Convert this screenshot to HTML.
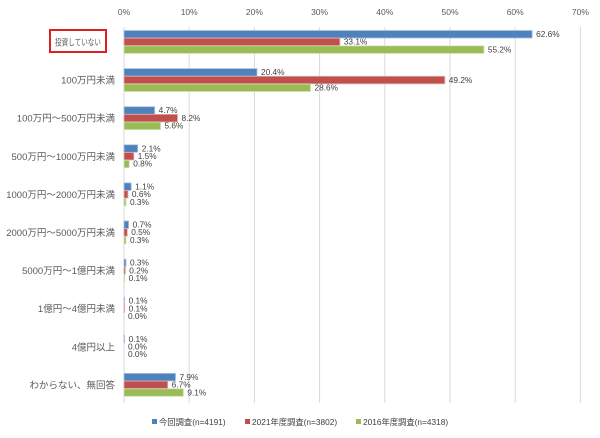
<!DOCTYPE html>
<html><head><meta charset="utf-8"><style>
html,body{margin:0;padding:0;background:#fff;}
svg{display:block;font-family:"Liberation Sans","Noto Sans CJK JP",sans-serif;}
</style></head><body>
<svg id="c" width="600" height="438" viewBox="0 0 600 438"></svg>
<script>
(function(){
var s=document.getElementById('c');
var x0=124,k=6.52,yTop=27,yBot=403;
var h='';
for(var i=0;i<=7;i++){var x=x0+i*10*k;
 h+='<line x1="'+x+'" y1="'+yTop+'" x2="'+x+'" y2="'+yBot+'" stroke="#d9d9d9" stroke-width="1"/>';
 h+='<text x="'+x+'" y="15" font-size="8.5" fill="#595959" text-anchor="middle">'+(i*10)+'%</text>';}
var cats=["投資していない","100万円未満","100万円～500万円未満","500万円～1000万円未満","1000万円～2000万円未満","2000万円～5000万円未満","5000万円～1億円未満","1億円～4億円未満","4億円以上","わからない、無回答"];
var d=[[62.6,33.1,55.2],[20.4,49.2,28.6],[4.7,8.2,5.6],[2.1,1.5,0.8],[1.1,0.6,0.3],[0.7,0.5,0.3],[0.3,0.2,0.1],[0.1,0.1,0.0],[0.1,0.0,0.0],[7.9,6.7,9.1]];
var col=["#4f81bd","#c0504d","#9bbb59"],bc=["#a8c0e0","#e0a8a6","#cde0ae"];
for(var g=0;g<10;g++){var cy=42+g*38.1;
 if(g==0){h+='<text x="55" y="'+(cy+3.5)+'" font-size="9" textLength="46" lengthAdjust="spacingAndGlyphs" fill="#595959">'+cats[g]+'</text>';}
 else h+='<text x="115" y="'+(cy+3.5)+'" font-size="9.5" fill="#595959" text-anchor="end">'+cats[g]+'</text>';
 for(var j=0;j<3;j++){var y=cy-11.5+j*7.7,w=d[g][j]*k;
  if(w>0)h+='<rect x="'+x0+'" y="'+y+'" width="'+w+'" height="7.5" fill="'+col[j]+'" stroke="'+bc[j]+'" stroke-width="0.8"/>';
  h+='<text x="'+(x0+w+4)+'" y="'+(y+6.5)+'" font-size="8.3" fill="#404040">'+d[g][j].toFixed(1)+'%</text>';}}
h+='<rect x="50" y="30" width="56" height="22" fill="none" stroke="#e02020" stroke-width="2"/>';
var lg=[[152,"今回調査(n=4191)"],[245,"2021年度調査(n=3802)"],[356,"2016年度調査(n=4318)"]];
for(var m=0;m<3;m++){h+='<rect x="'+lg[m][0]+'" y="419" width="5" height="5" fill="'+col[m]+'"/><text x="'+(lg[m][0]+7)+'" y="425" font-size="8.3" fill="#404040">'+lg[m][1]+'</text>';}
s.innerHTML=h;
})();
</script>
</body></html>
